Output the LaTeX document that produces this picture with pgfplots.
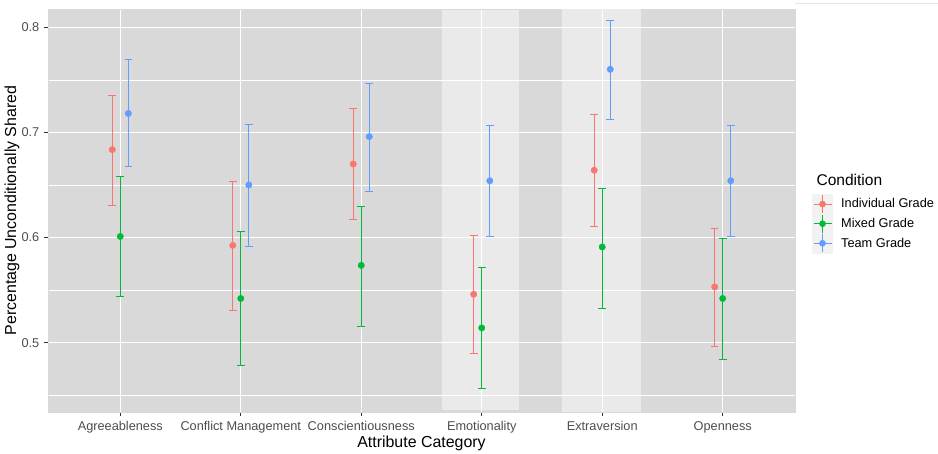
\documentclass[border=0pt]{standalone}
\usepackage{pgfplots}
\pgfplotsset{compat=1.18}
\usepackage{pgfplotstable}
\usepackage{fontspec}
\setmainfont{Liberation Sans}
\definecolor{cRed}{HTML}{F8766D}
\definecolor{cGreen}{HTML}{00BA38}
\definecolor{cBlue}{HTML}{619CFF}
\definecolor{panelbg}{HTML}{D9D9D9}
\definecolor{keybg}{HTML}{F2F2F2}
\definecolor{ticklab}{HTML}{4D4D4D}
\definecolor{tickcol}{HTML}{333333}

% x = category index (1..6), y = mean, lo/hi = error bar ends
\pgfplotstableread{
x y lo hi
1 0.6836 0.631 0.735
2 0.5925 0.531 0.653
3 0.670 0.617 0.723
4 0.546 0.490 0.602
5 0.664 0.611 0.717
6 0.553 0.496 0.609
}\indiv
\pgfplotstableread{
x y lo hi
1 0.601 0.544 0.658
2 0.542 0.478 0.606
3 0.5735 0.515 0.630
4 0.514 0.456 0.572
5 0.591 0.533 0.647
6 0.542 0.484 0.599
}\mixed
\pgfplotstableread{
x y lo hi
1 0.718 0.668 0.769
2 0.650 0.592 0.708
3 0.696 0.644 0.747
4 0.654 0.601 0.7065
5 0.760 0.7126 0.807
6 0.654 0.601 0.707
}\team

\pgfplotsset{
  legkey/.style={legend image code/.code={
    \fill[keybg] (0bp,-9.6bp) rectangle (20bp,9.6bp);
    \draw[#1, line width=0.8bp] (1bp,0bp) -- (19bp,0bp);
    \draw[#1, line width=0.8bp] (10bp,-9bp) -- (10bp,9bp);
    \fill[#1] (10bp,0bp) circle (3.1bp);
  }},
  ebar/.style={forget plot, only marks, mark=*, mark size=3.2bp, color=#1,
    error bars/.cd, y dir=both, y explicit,
    error bar style={line width=0.8bp, color=#1},
    error mark options={rotate=90, mark size=3.8bp, line width=0.8bp, color=#1}},
}

\begin{document}
\begin{tikzpicture}
\path[use as bounding box] (0,0) rectangle (938bp,454bp);
\draw[black!10, line width=0.6bp] (795bp,451bp) -- (938bp,451bp);
\begin{axis}[
  at={(48bp,42bp)}, anchor=south west,
  scale only axis, width=747bp, height=403bp,
  xmin=0.4, xmax=6.6, ymin=0.434, ymax=0.8174,
  axis background/.style={fill=panelbg},
  axis line style={draw=panelbg, line width=0.1bp},
  tick pos=left, tick align=outside,
  major tick length=4bp, minor tick length=0pt,
  every tick/.append style={draw=tickcol, line width=0.8bp},
  xtick={1,2,3,4,5,6},
  xticklabels={Agreeableness,Conflict Management,Conscientiousness,Emotionality,Extraversion,Openness},
  ytick={0.5,0.6,0.7,0.8},
  minor ytick={0.45,0.55,0.65,0.75},
  grid=both,
  major grid style={white, line width=0.9bp},
  minor grid style={white, line width=0.45bp},
  /pgf/number format/assume math mode=true,
  ticklabel style={font=\fontsize{12.8}{14}\selectfont, text=ticklab},
  yticklabel style={inner sep=1bp, xshift=-3.5bp},
  xticklabel style={inner sep=1bp, yshift=-4bp},
  legend style={at={(axis description cs:1.0232,0.5402)}, anchor=north west,
    draw=none, fill=none, inner sep=0pt, outer sep=0pt, row sep=0pt, column sep=8.4bp,
    nodes={inner sep=0pt, outer sep=0pt},
    font=\fontsize{12.8}{14}\selectfont, cells={anchor=west}},
]
\fill[white, fill opacity=0.47] (axis cs:3.672,0.4355) rectangle (axis cs:4.31,0.8164);
\fill[white, fill opacity=0.47] (axis cs:4.669,0.434) rectangle (axis cs:5.32,0.8174);

\addplot[ebar=cRed] table[x expr=\thisrow{x}-0.0667, y=y,
  y error plus expr=\thisrow{hi}-\thisrow{y}, y error minus expr=\thisrow{y}-\thisrow{lo}] {\indiv};
\addplot[ebar=cGreen] table[x=x, y=y,
  y error plus expr=\thisrow{hi}-\thisrow{y}, y error minus expr=\thisrow{y}-\thisrow{lo}] {\mixed};
\addplot[ebar=cBlue] table[x expr=\thisrow{x}+0.0667, y=y,
  y error plus expr=\thisrow{hi}-\thisrow{y}, y error minus expr=\thisrow{y}-\thisrow{lo}] {\team};

\addlegendimage{legkey=cRed}
\addlegendentry{Individual Grade}
\addlegendimage{legkey=cGreen}
\addlegendentry{Mixed Grade}
\addlegendimage{legkey=cBlue}
\addlegendentry{Team Grade}
\end{axis}
\node[anchor=west, font=\fontsize{15.6}{18}\selectfont] at (813bp,274bp) {Condition};
\node[font=\fontsize{16}{19}\selectfont] at (421.5bp,11bp) {Attribute Category};
\node[rotate=90, font=\fontsize{16}{19}\selectfont] at (12bp,243.5bp) {Percentage Unconditionally Shared};
\end{tikzpicture}
\end{document}
